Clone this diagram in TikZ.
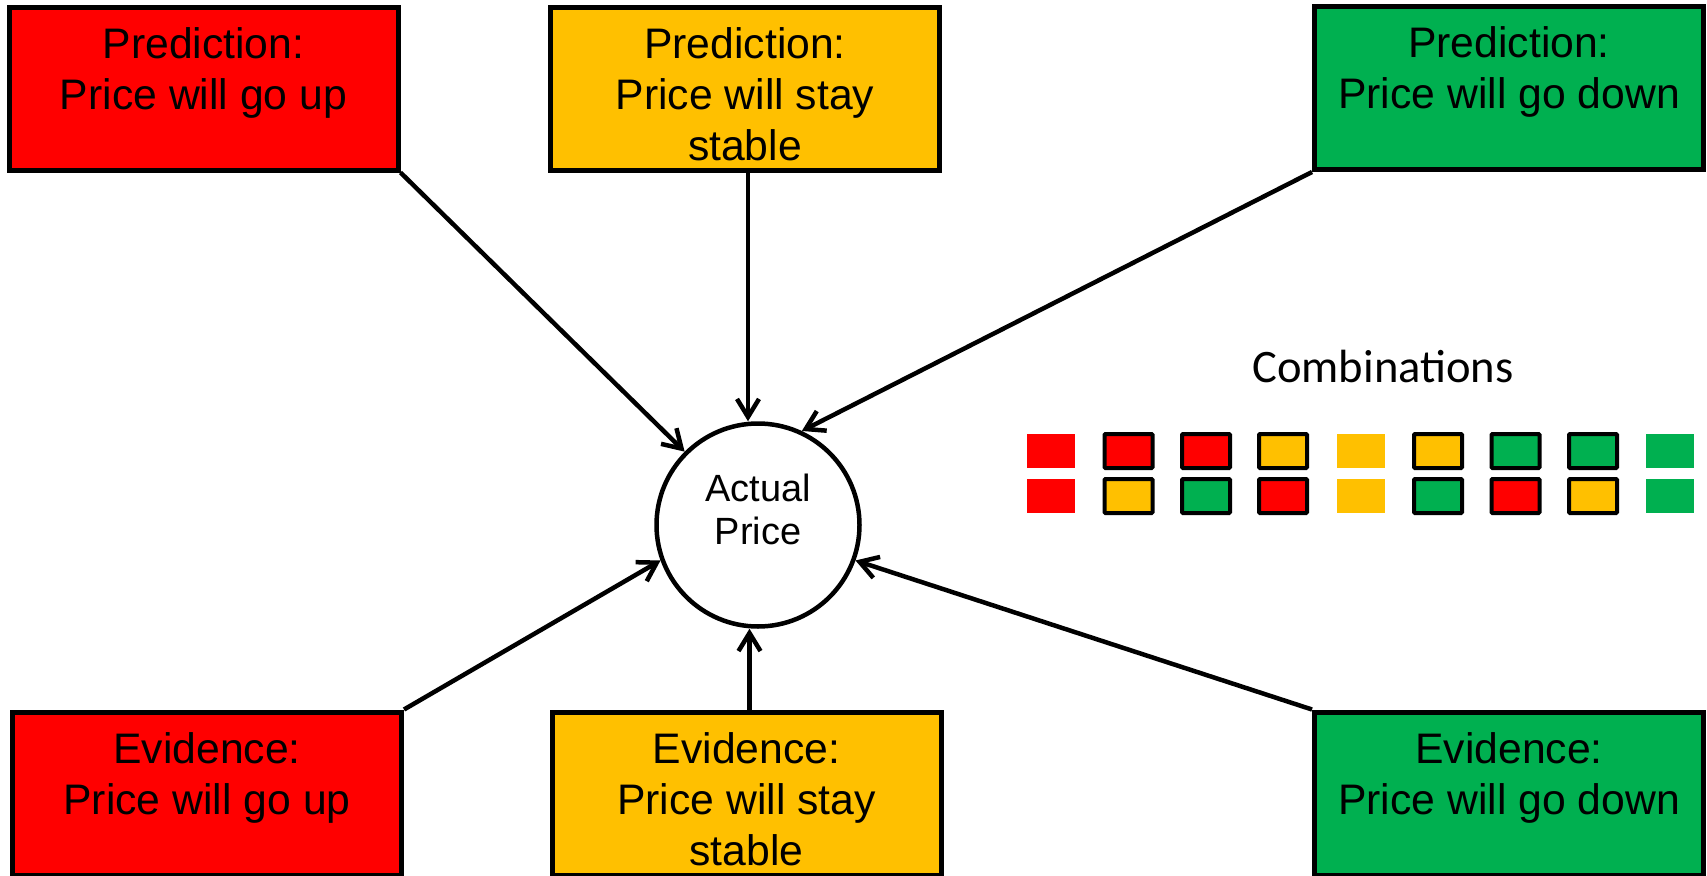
\documentclass[tikz,border=0pt]{standalone}
\usepackage{fontspec}
\setmainfont{Liberation Sans}
\newfontfamily\calibri{Carlito}
\usetikzlibrary{arrows.meta}

\definecolor{upred}{HTML}{FF0000}
\definecolor{stableyellow}{HTML}{FFC000}
\definecolor{downgreen}{HTML}{00B050}

\begin{document}
\begin{tikzpicture}[
  box/.style={rectangle, draw=black, line width=0.1cm, minimum width=7.78cm,
              minimum height=3.26cm, align=center,
              font=\fontsize{24.3pt}{29pt}\selectfont,
              text height=2.86cm, text depth=0pt},
  actual/.style={circle, draw=black, line width=0.09cm, fill=white, minimum size=4.06cm,
              inner sep=0pt, align=center, font=\fontsize{21.6pt}{24.5pt}\selectfont,
              text height=2.52cm, text depth=0pt},
  sq/.style={rectangle, minimum width=0.96cm, minimum height=0.68cm, inner sep=0pt},
  sqf/.style={sq, draw=black, line width=0.08cm, rounded corners=0.5pt},
  arr/.style={-{Straight Barb[length=0.36cm, width=0.44cm]}, line width=0.09cm},
  lbl/.style={font=\calibri\fontsize{26.5pt}{31pt}\selectfont}
]
  \path[use as bounding box, clip] (0,0) rectangle (34.14,-17.52);

  % predictions on top, evidence below
  \node[box, fill=upred]        (predup)     at (4.07, -1.77)  {Prediction:\\Price will go up\\ \mbox{}};
  \node[box, fill=stableyellow] (predstable) at (14.9, -1.78)  {Prediction:\\Price will stay\\stable};
  \node[box, fill=downgreen]    (preddown)   at (30.18,-1.76)  {Prediction:\\Price will go down\\ \mbox{}};
  \node[box, fill=upred]        (evidup)     at (4.14, -15.87) {Evidence:\\Price will go up\\ \mbox{}};
  \node[box, fill=stableyellow] (evidstable) at (14.93,-15.87) {Evidence:\\Price will stay\\stable};
  \node[box, fill=downgreen]    (eviddown)   at (30.18,-15.87) {Evidence:\\Price will go down\\ \mbox{}};

  \node[actual] (price) at (15.16,-10.5) {Actual\\Price\\ \mbox{}};

  \draw[arr] (predup.south east)   -- (price.135);
  \draw[arr] ([xshift=0.06cm]predstable.south) -- ([xshift=0.06cm]predstable.south |- price.north);
  \draw[arr] (preddown.south west) -- (price.65);
  \draw[arr] (evidup.north east)   -- (price.200);
  \draw[arr] ([xshift=0.06cm]evidstable.north) -- ([xshift=0.06cm]evidstable.north |- price.south);
  \draw[arr] (eviddown.north west) -- (price.340);

  % combinations: upper row prediction, lower row evidence
  \node[lbl] (combi) at (27.66,-7.32) {Combinations};

  \node[sq,  fill=upred]        (c1p) at (21.02,-9.02) {};
  \node[sq,  fill=upred]        (c1e) at (21.02,-9.92) {};
  \node[sqf, fill=upred]        (c2p) at (22.57,-9.02) {};
  \node[sqf, fill=stableyellow] (c2e) at (22.57,-9.92) {};
  \node[sqf, fill=upred]        (c3p) at (24.12,-9.02) {};
  \node[sqf, fill=downgreen]    (c3e) at (24.12,-9.92) {};
  \node[sqf, fill=stableyellow] (c4p) at (25.66,-9.02) {};
  \node[sqf, fill=upred]        (c4e) at (25.66,-9.92) {};
  \node[sq,  fill=stableyellow] (c5p) at (27.21,-9.02) {};
  \node[sq,  fill=stableyellow] (c5e) at (27.21,-9.92) {};
  \node[sqf, fill=stableyellow] (c6p) at (28.76,-9.02) {};
  \node[sqf, fill=downgreen]    (c6e) at (28.76,-9.92) {};
  \node[sqf, fill=downgreen]    (c7p) at (30.31,-9.02) {};
  \node[sqf, fill=upred]        (c7e) at (30.31,-9.92) {};
  \node[sqf, fill=downgreen]    (c8p) at (31.86,-9.02) {};
  \node[sqf, fill=stableyellow] (c8e) at (31.86,-9.92) {};
  \node[sq,  fill=downgreen]    (c9p) at (33.40,-9.02) {};
  \node[sq,  fill=downgreen]    (c9e) at (33.40,-9.92) {};
\end{tikzpicture}
\end{document}
